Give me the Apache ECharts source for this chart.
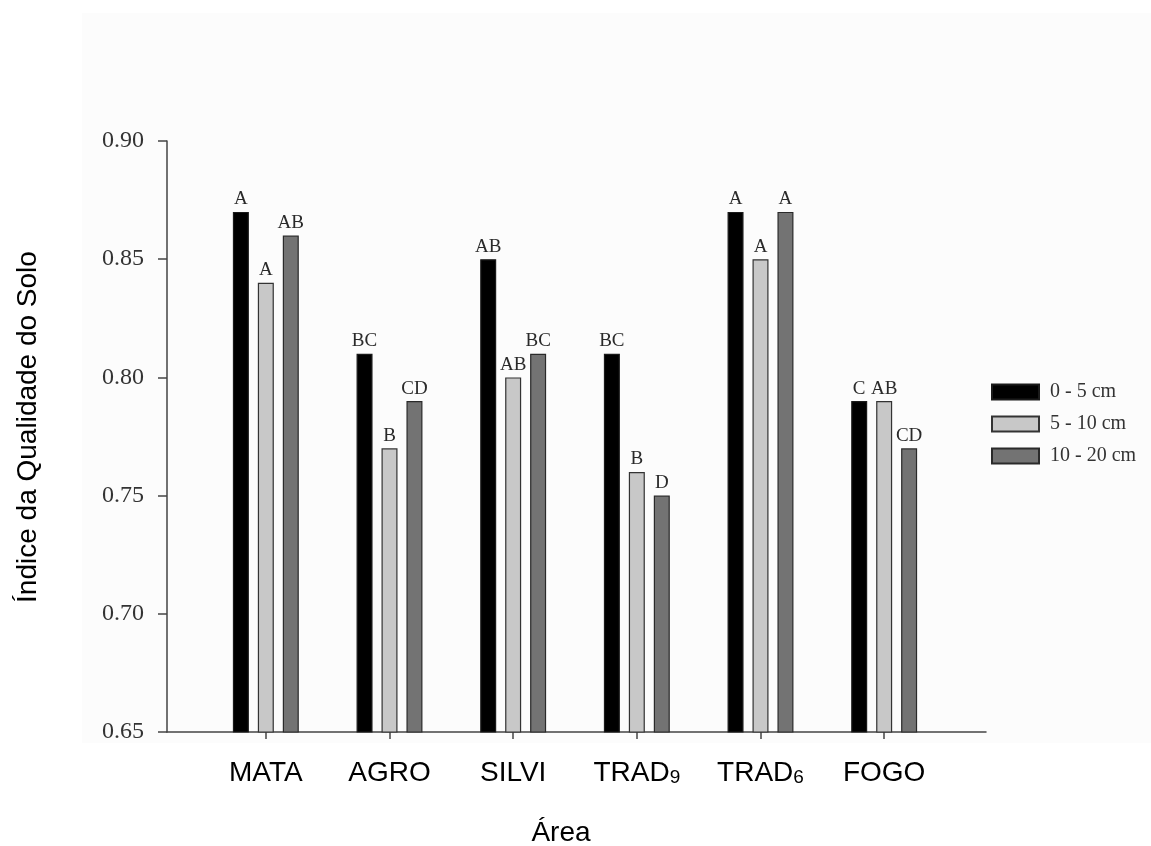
<!DOCTYPE html>
<html>
<head>
<meta charset="utf-8">
<script src="https://cdn.jsdelivr.net/npm/echarts@6/dist/echarts.min.js"></script>
<style>
  html, body { margin: 0; padding: 0; background: #ffffff; }
  #chart { width: 1151px; height: 846px; }
</style>
</head>
<body>
<div id="chart"></div>
<script>
// Soil quality index by area and sampling depth
const categories = ['MATA', 'AGRO', 'SILVI', 'TRAD9', 'TRAD6', 'FOGO'];
const depthNames = ['0 - 5 cm', '5 - 10 cm', '10 - 20 cm'];

const depth0to5 = [0.87, 0.81, 0.85, 0.81, 0.87, 0.79];
const depth5to10 = [0.84, 0.77, 0.80, 0.76, 0.85, 0.79];
const depth10to20 = [0.86, 0.79, 0.81, 0.75, 0.87, 0.77];

// Mean-comparison letters shown above each bar
const letters0to5 = ['A', 'BC', 'AB', 'BC', 'A', 'C'];
const letters5to10 = ['A', 'B', 'AB', 'B', 'A', 'AB'];
const letters10to20 = ['AB', 'CD', 'BC', 'D', 'A', 'CD'];

const yTicks = [0.65, 0.70, 0.75, 0.80, 0.85, 0.90];

const SERIF = '"Liberation Serif", "Times New Roman", serif';
const SANS = '"Liberation Sans", Arial, sans-serif';

const chart = echarts.init(document.getElementById('chart'), null, { renderer: 'canvas' });

const yMin = yTicks[0];
const yMax = yTicks[yTicks.length - 1];
const yStep = +(yTicks[1] - yTicks[0]).toFixed(2);

function makeSeries(name, values, letters, fill, border) {
  return {
    name: name,
    type: 'bar',
    xAxisIndex: 0,
    yAxisIndex: 0,
    barWidth: 16,
    barGap: '56%',
    data: values.map((v, i) => ({ value: v, letter: letters[i] })),
    itemStyle: { color: fill, borderColor: border, borderWidth: 1.2 },
    label: {
      show: true,
      position: 'top',
      distance: 3,
      fontFamily: SERIF,
      fontSize: 19,
      color: '#2a2a2a',
      formatter: p => p.data.letter
    }
  };
}

// Category labels with numeric subscripts (TRAD9 -> TRAD with subscript 9)
function catLabel(v) {
  const m = v.match(/^([A-Z]+)(\d+)$/);
  if (m) return '{main|' + m[1] + '}{sub|' + m[2] + '}';
  return '{main|' + v + '}';
}

const option = {
  backgroundColor: '#ffffff',
  animation: false,
  graphic: [
    {
      type: 'rect',
      z: -10,
      silent: true,
      shape: { x: 82, y: 13, width: 1069, height: 730 },
      style: { fill: '#fcfcfc' }
    },
    {
      type: 'text',
      x: 28,
      y: 427,
      rotation: Math.PI / 2,
      style: {
        text: 'Índice da Qualidade do Solo',
        fontFamily: SANS,
        fontSize: 28,
        fill: '#000000',
        align: 'center',
        verticalAlign: 'middle'
      }
    },
    {
      type: 'text',
      x: 561,
      y: 833,
      style: {
        text: 'Área',
        fontFamily: SANS,
        fontSize: 28,
        fill: '#000000',
        align: 'center',
        verticalAlign: 'middle'
      }
    }
  ],
  legend: {
    orient: 'vertical',
    left: 991,
    top: 382,
    padding: 0,
    itemWidth: 47,
    itemHeight: 15,
    itemGap: 12,
    icon: 'rect',
    data: depthNames,
    textStyle: { fontFamily: SERIF, fontSize: 20, color: '#333333', padding: [0, 0, 0, 6] }
  },
  grid: [
    // bar area: category centres sit inside the wider axis frame
    { left: 204, top: 141, width: 742, height: 591 },
    // axis frame
    { left: 167, top: 141, width: 819, height: 591 }
  ],
  xAxis: [
    {
      type: 'category',
      gridIndex: 0,
      data: categories,
      axisLine: { show: false },
      axisTick: { show: true, interval: 0, alignWithLabel: true, length: 7, lineStyle: { color: '#444444', width: 1.5 } },
      axisLabel: {
        interval: 0,
        margin: 25,
        formatter: catLabel,
        rich: {
          main: { fontFamily: SANS, fontSize: 28, color: '#000000', verticalAlign: 'bottom', lineHeight: 30 },
          sub: { fontFamily: SANS, fontSize: 19, color: '#000000', verticalAlign: 'bottom', lineHeight: 14 }
        }
      },
      splitLine: { show: false }
    },
    {
      type: 'value',
      gridIndex: 1,
      min: 0,
      max: 1,
      axisLine: { show: true, onZero: false, lineStyle: { color: '#444444', width: 1.5 } },
      axisTick: { show: false },
      axisLabel: { show: false },
      splitLine: { show: false }
    }
  ],
  yAxis: [
    {
      type: 'value',
      gridIndex: 0,
      min: yMin,
      max: yMax,
      interval: yStep,
      show: false,
      splitLine: { show: false }
    },
    {
      type: 'value',
      gridIndex: 1,
      min: yMin,
      max: yMax,
      interval: yStep,
      axisLine: { show: true, lineStyle: { color: '#444444', width: 1.5 } },
      axisTick: { show: true, length: 9, lineStyle: { color: '#444444', width: 1.5 } },
      axisLabel: {
        margin: 23,
        fontFamily: SERIF,
        fontSize: 24,
        color: '#333333',
        formatter: v => v.toFixed(2)
      },
      splitLine: { show: false }
    }
  ],
  series: [
    makeSeries(depthNames[0], depth0to5, letters0to5, '#000000', '#1a1a1a'),
    makeSeries(depthNames[1], depth5to10, letters5to10, '#c8c8c8', '#333333'),
    makeSeries(depthNames[2], depth10to20, letters10to20, '#737373', '#2a2a2a')
  ]
};

chart.setOption(option);
</script>
</body>
</html>
